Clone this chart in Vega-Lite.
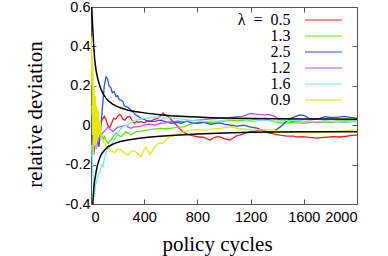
{
"$schema": "https://vega.github.io/schema/vega-lite/v6.json",
"width": 266, "height": 197,
"autosize": "none",
"padding": {"left": 91, "top": 7, "right": 31, "bottom": 52},
"background": "white",
"config": {
  "view": {"stroke": "#555", "strokeWidth": 1},
  "axis": {"grid": false, "domain": false, "tickColor": "#555", "labelFont": "Liberation Sans", "labelFontSize": 14.5, "labelColor": "#000", "titleFont": "Liberation Serif", "titleFontSize": 21, "titleFontWeight": "normal", "titleColor": "#000"},
  "legend": {"padding": 0}
},
"datasets": {
"series": [
{"l":"0.5","x":10,"y":0.06},{"l":"0.5","x":25,"y":-0.05},{"l":"0.5","x":40,"y":0.02},{"l":"0.5","x":55,"y":-0.03},{"l":"0.5","x":70,"y":0.0},{"l":"0.5","x":85,"y":0.03},{"l":"0.5","x":100,"y":0.045},{"l":"0.5","x":113,"y":0.03},{"l":"0.5","x":125,"y":0.0},{"l":"0.5","x":140,"y":-0.015},{"l":"0.5","x":155,"y":0.01},{"l":"0.5","x":170,"y":0.035},{"l":"0.5","x":185,"y":0.03},{"l":"0.5","x":200,"y":0.045},{"l":"0.5","x":215,"y":0.055},{"l":"0.5","x":226,"y":0.05},{"l":"0.5","x":240,"y":0.03},{"l":"0.5","x":255,"y":0.025},{"l":"0.5","x":270,"y":0.04},{"l":"0.5","x":291,"y":0.045},{"l":"0.5","x":305,"y":0.03},{"l":"0.5","x":318,"y":0.015},{"l":"0.5","x":329,"y":0.01},{"l":"0.5","x":345,"y":0.02},{"l":"0.5","x":360,"y":0.015},{"l":"0.5","x":376,"y":0.018},{"l":"0.5","x":400,"y":0.012},{"l":"0.5","x":429,"y":0.023},{"l":"0.5","x":450,"y":0.02},{"l":"0.5","x":475,"y":0.03},{"l":"0.5","x":504,"y":0.035},{"l":"0.5","x":525,"y":0.05},{"l":"0.5","x":541,"y":0.062},{"l":"0.5","x":560,"y":0.05},{"l":"0.5","x":580,"y":0.045},{"l":"0.5","x":600,"y":0.03},{"l":"0.5","x":620,"y":0.015},{"l":"0.5","x":644,"y":0.0},{"l":"0.5","x":670,"y":-0.02},{"l":"0.5","x":692,"y":-0.033},{"l":"0.5","x":720,"y":-0.045},{"l":"0.5","x":744,"y":-0.05},{"l":"0.5","x":780,"y":-0.055},{"l":"0.5","x":820,"y":-0.06},{"l":"0.5","x":850,"y":-0.062},{"l":"0.5","x":875,"y":-0.07},{"l":"0.5","x":895,"y":-0.075},{"l":"0.5","x":920,"y":-0.065},{"l":"0.5","x":950,"y":-0.058},{"l":"0.5","x":975,"y":-0.06},{"l":"0.5","x":1000,"y":-0.068},{"l":"0.5","x":1045,"y":-0.075},{"l":"0.5","x":1070,"y":-0.065},{"l":"0.5","x":1100,"y":-0.052},{"l":"0.5","x":1120,"y":-0.05},{"l":"0.5","x":1160,"y":-0.04},{"l":"0.5","x":1196,"y":-0.033},{"l":"0.5","x":1230,"y":-0.03},{"l":"0.5","x":1271,"y":-0.024},{"l":"0.5","x":1300,"y":-0.028},{"l":"0.5","x":1340,"y":-0.04},{"l":"0.5","x":1380,"y":-0.045},{"l":"0.5","x":1420,"y":-0.05},{"l":"0.5","x":1474,"y":-0.055},{"l":"0.5","x":1520,"y":-0.055},{"l":"0.5","x":1560,"y":-0.06},{"l":"0.5","x":1594,"y":-0.058},{"l":"0.5","x":1640,"y":-0.062},{"l":"0.5","x":1700,"y":-0.066},{"l":"0.5","x":1750,"y":-0.062},{"l":"0.5","x":1790,"y":-0.06},{"l":"0.5","x":1820,"y":-0.058},{"l":"0.5","x":1870,"y":-0.06},{"l":"0.5","x":1920,"y":-0.056},{"l":"0.5","x":1960,"y":-0.052},{"l":"0.5","x":2000,"y":-0.05},

{"l":"1.3","x":5,"y":0.1},{"l":"1.3","x":15,"y":-0.05},{"l":"1.3","x":25,"y":0.02},{"l":"1.3","x":35,"y":-0.08},{"l":"1.3","x":50,"y":-0.02},{"l":"1.3","x":65,"y":-0.06},{"l":"1.3","x":80,"y":-0.05},{"l":"1.3","x":95,"y":-0.07},{"l":"1.3","x":103,"y":-0.058},{"l":"1.3","x":115,"y":-0.08},{"l":"1.3","x":128,"y":-0.092},{"l":"1.3","x":140,"y":-0.08},{"l":"1.3","x":150,"y":-0.075},{"l":"1.3","x":165,"y":-0.06},{"l":"1.3","x":188,"y":-0.04},{"l":"1.3","x":205,"y":-0.05},{"l":"1.3","x":226,"y":-0.058},{"l":"1.3","x":245,"y":-0.045},{"l":"1.3","x":263,"y":-0.033},{"l":"1.3","x":280,"y":-0.04},{"l":"1.3","x":300,"y":-0.05},{"l":"1.3","x":320,"y":-0.04},{"l":"1.3","x":345,"y":-0.033},{"l":"1.3","x":380,"y":-0.03},{"l":"1.3","x":429,"y":-0.024},{"l":"1.3","x":470,"y":-0.02},{"l":"1.3","x":526,"y":-0.016},{"l":"1.3","x":560,"y":-0.018},{"l":"1.3","x":600,"y":-0.016},{"l":"1.3","x":650,"y":-0.01},{"l":"1.3","x":700,"y":-0.008},{"l":"1.3","x":744,"y":0.005},{"l":"1.3","x":780,"y":0.01},{"l":"1.3","x":820,"y":0.015},{"l":"1.3","x":870,"y":0.012},{"l":"1.3","x":920,"y":0.016},{"l":"1.3","x":970,"y":0.018},{"l":"1.3","x":1020,"y":0.022},{"l":"1.3","x":1060,"y":0.024},{"l":"1.3","x":1100,"y":0.026},{"l":"1.3","x":1150,"y":0.025},{"l":"1.3","x":1200,"y":0.026},{"l":"1.3","x":1250,"y":0.03},{"l":"1.3","x":1300,"y":0.035},{"l":"1.3","x":1350,"y":0.025},{"l":"1.3","x":1400,"y":0.015},{"l":"1.3","x":1450,"y":0.01},{"l":"1.3","x":1500,"y":0.013},{"l":"1.3","x":1550,"y":0.012},{"l":"1.3","x":1600,"y":0.01},{"l":"1.3","x":1650,"y":0.015},{"l":"1.3","x":1700,"y":0.016},{"l":"1.3","x":1750,"y":0.018},{"l":"1.3","x":1800,"y":0.015},{"l":"1.3","x":1850,"y":0.02},{"l":"1.3","x":1900,"y":0.022},{"l":"1.3","x":1950,"y":0.024},{"l":"1.3","x":2000,"y":0.026},

{"l":"2.5","x":5,"y":0.05},{"l":"2.5","x":20,"y":-0.15},{"l":"2.5","x":40,"y":-0.05},{"l":"2.5","x":60,"y":-0.11},{"l":"2.5","x":75,"y":0.0},{"l":"2.5","x":90,"y":0.12},{"l":"2.5","x":100,"y":0.2},{"l":"2.5","x":113,"y":0.246},{"l":"2.5","x":125,"y":0.235},{"l":"2.5","x":135,"y":0.2},{"l":"2.5","x":150,"y":0.19},{"l":"2.5","x":160,"y":0.165},{"l":"2.5","x":175,"y":0.17},{"l":"2.5","x":188,"y":0.145},{"l":"2.5","x":200,"y":0.15},{"l":"2.5","x":212,"y":0.13},{"l":"2.5","x":226,"y":0.128},{"l":"2.5","x":240,"y":0.12},{"l":"2.5","x":250,"y":0.1},{"l":"2.5","x":263,"y":0.094},{"l":"2.5","x":280,"y":0.09},{"l":"2.5","x":300,"y":0.077},{"l":"2.5","x":318,"y":0.065},{"l":"2.5","x":338,"y":0.052},{"l":"2.5","x":355,"y":0.045},{"l":"2.5","x":376,"y":0.035},{"l":"2.5","x":400,"y":0.03},{"l":"2.5","x":429,"y":0.018},{"l":"2.5","x":455,"y":0.022},{"l":"2.5","x":481,"y":0.018},{"l":"2.5","x":505,"y":0.025},{"l":"2.5","x":526,"y":0.026},{"l":"2.5","x":560,"y":0.018},{"l":"2.5","x":602,"y":0.01},{"l":"2.5","x":640,"y":0.015},{"l":"2.5","x":680,"y":0.01},{"l":"2.5","x":720,"y":0.02},{"l":"2.5","x":760,"y":0.012},{"l":"2.5","x":800,"y":0.01},{"l":"2.5","x":850,"y":0.015},{"l":"2.5","x":900,"y":0.005},{"l":"2.5","x":970,"y":0.012},{"l":"2.5","x":1000,"y":0.005},{"l":"2.5","x":1050,"y":0.0},{"l":"2.5","x":1100,"y":-0.005},{"l":"2.5","x":1150,"y":0.0},{"l":"2.5","x":1200,"y":-0.01},{"l":"2.5","x":1250,"y":-0.015},{"l":"2.5","x":1300,"y":-0.03},{"l":"2.5","x":1360,"y":-0.035},{"l":"2.5","x":1400,"y":-0.02},{"l":"2.5","x":1440,"y":0.0},{"l":"2.5","x":1470,"y":0.02},{"l":"2.5","x":1500,"y":0.035},{"l":"2.5","x":1540,"y":0.045},{"l":"2.5","x":1570,"y":0.052},{"l":"2.5","x":1600,"y":0.05},{"l":"2.5","x":1640,"y":0.035},{"l":"2.5","x":1680,"y":0.03},{"l":"2.5","x":1720,"y":0.035},{"l":"2.5","x":1760,"y":0.043},{"l":"2.5","x":1800,"y":0.04},{"l":"2.5","x":1850,"y":0.04},{"l":"2.5","x":1900,"y":0.045},{"l":"2.5","x":1950,"y":0.04},{"l":"2.5","x":2000,"y":0.035},

{"l":"1.2","x":10,"y":-0.15},{"l":"1.2","x":25,"y":-0.05},{"l":"1.2","x":40,"y":-0.12},{"l":"1.2","x":53,"y":-0.075},{"l":"1.2","x":70,"y":-0.05},{"l":"1.2","x":85,"y":-0.04},{"l":"1.2","x":100,"y":-0.03},{"l":"1.2","x":115,"y":-0.02},{"l":"1.2","x":128,"y":-0.008},{"l":"1.2","x":145,"y":-0.02},{"l":"1.2","x":165,"y":-0.033},{"l":"1.2","x":185,"y":-0.02},{"l":"1.2","x":200,"y":-0.01},{"l":"1.2","x":216,"y":-0.008},{"l":"1.2","x":240,"y":-0.005},{"l":"1.2","x":263,"y":0.0},{"l":"1.2","x":280,"y":-0.01},{"l":"1.2","x":300,"y":-0.016},{"l":"1.2","x":320,"y":-0.01},{"l":"1.2","x":340,"y":-0.008},{"l":"1.2","x":370,"y":-0.005},{"l":"1.2","x":400,"y":0.0},{"l":"1.2","x":440,"y":0.005},{"l":"1.2","x":480,"y":0.0},{"l":"1.2","x":526,"y":0.01},{"l":"1.2","x":560,"y":0.012},{"l":"1.2","x":602,"y":0.018},{"l":"1.2","x":650,"y":0.02},{"l":"1.2","x":700,"y":0.018},{"l":"1.2","x":750,"y":0.022},{"l":"1.2","x":800,"y":0.026},{"l":"1.2","x":850,"y":0.028},{"l":"1.2","x":900,"y":0.032},{"l":"1.2","x":970,"y":0.035},{"l":"1.2","x":1000,"y":0.035},{"l":"1.2","x":1050,"y":0.04},{"l":"1.2","x":1100,"y":0.043},{"l":"1.2","x":1140,"y":0.045},{"l":"1.2","x":1170,"y":0.052},{"l":"1.2","x":1196,"y":0.06},{"l":"1.2","x":1230,"y":0.058},{"l":"1.2","x":1260,"y":0.055},{"l":"1.2","x":1300,"y":0.052},{"l":"1.2","x":1340,"y":0.055},{"l":"1.2","x":1380,"y":0.045},{"l":"1.2","x":1421,"y":0.026},{"l":"1.2","x":1470,"y":0.025},{"l":"1.2","x":1520,"y":0.02},{"l":"1.2","x":1560,"y":0.022},{"l":"1.2","x":1600,"y":0.018},{"l":"1.2","x":1650,"y":0.02},{"l":"1.2","x":1700,"y":0.015},{"l":"1.2","x":1750,"y":0.02},{"l":"1.2","x":1800,"y":0.018},{"l":"1.2","x":1850,"y":0.02},{"l":"1.2","x":1900,"y":0.015},{"l":"1.2","x":1950,"y":0.018},{"l":"1.2","x":2000,"y":0.018},

{"l":"1.6","x":5,"y":-0.1},{"l":"1.6","x":15,"y":-0.25},{"l":"1.6","x":22,"y":-0.36},{"l":"1.6","x":28,"y":-0.36},{"l":"1.6","x":35,"y":-0.3},{"l":"1.6","x":42,"y":-0.29},{"l":"1.6","x":55,"y":-0.25},{"l":"1.6","x":65,"y":-0.24},{"l":"1.6","x":80,"y":-0.2},{"l":"1.6","x":90,"y":-0.21},{"l":"1.6","x":100,"y":-0.17},{"l":"1.6","x":113,"y":-0.14},{"l":"1.6","x":125,"y":-0.12},{"l":"1.6","x":140,"y":-0.11},{"l":"1.6","x":160,"y":-0.09},{"l":"1.6","x":175,"y":-0.075},{"l":"1.6","x":188,"y":-0.058},{"l":"1.6","x":205,"y":-0.04},{"l":"1.6","x":226,"y":-0.016},{"l":"1.6","x":250,"y":-0.005},{"l":"1.6","x":278,"y":0.0},{"l":"1.6","x":300,"y":0.015},{"l":"1.6","x":329,"y":0.026},{"l":"1.6","x":360,"y":0.03},{"l":"1.6","x":404,"y":0.035},{"l":"1.6","x":440,"y":0.038},{"l":"1.6","x":480,"y":0.043},{"l":"1.6","x":520,"y":0.04},{"l":"1.6","x":560,"y":0.035},{"l":"1.6","x":600,"y":0.038},{"l":"1.6","x":650,"y":0.035},{"l":"1.6","x":700,"y":0.03},{"l":"1.6","x":744,"y":0.026},{"l":"1.6","x":800,"y":0.022},{"l":"1.6","x":850,"y":0.018},{"l":"1.6","x":900,"y":0.02},{"l":"1.6","x":970,"y":0.022},{"l":"1.6","x":1000,"y":0.026},{"l":"1.6","x":1050,"y":0.03},{"l":"1.6","x":1098,"y":0.035},{"l":"1.6","x":1150,"y":0.028},{"l":"1.6","x":1196,"y":0.018},{"l":"1.6","x":1240,"y":0.022},{"l":"1.6","x":1300,"y":0.026},{"l":"1.6","x":1350,"y":0.022},{"l":"1.6","x":1400,"y":0.02},{"l":"1.6","x":1450,"y":0.024},{"l":"1.6","x":1500,"y":0.026},{"l":"1.6","x":1550,"y":0.022},{"l":"1.6","x":1600,"y":0.02},{"l":"1.6","x":1650,"y":0.018},{"l":"1.6","x":1700,"y":0.018},{"l":"1.6","x":1750,"y":0.022},{"l":"1.6","x":1800,"y":0.02},{"l":"1.6","x":1850,"y":0.018},{"l":"1.6","x":1900,"y":0.016},{"l":"1.6","x":1950,"y":0.02},{"l":"1.6","x":2000,"y":0.018},

{"l":"0.9","x":2,"y":0.45},{"l":"0.9","x":6,"y":0.2},{"l":"0.9","x":9,"y":0.35},{"l":"0.9","x":12,"y":-0.05},{"l":"0.9","x":15,"y":0.3},{"l":"0.9","x":19,"y":-0.15},{"l":"0.9","x":23,"y":0.2},{"l":"0.9","x":27,"y":-0.1},{"l":"0.9","x":32,"y":0.15},{"l":"0.9","x":37,"y":-0.12},{"l":"0.9","x":42,"y":0.1},{"l":"0.9","x":48,"y":-0.08},{"l":"0.9","x":55,"y":0.08},{"l":"0.9","x":62,"y":-0.05},{"l":"0.9","x":70,"y":0.02},{"l":"0.9","x":75,"y":-0.058},{"l":"0.9","x":90,"y":-0.08},{"l":"0.9","x":105,"y":-0.1},{"l":"0.9","x":128,"y":-0.11},{"l":"0.9","x":150,"y":-0.13},{"l":"0.9","x":178,"y":-0.14},{"l":"0.9","x":200,"y":-0.12},{"l":"0.9","x":226,"y":-0.126},{"l":"0.9","x":253,"y":-0.143},{"l":"0.9","x":278,"y":-0.151},{"l":"0.9","x":300,"y":-0.135},{"l":"0.9","x":320,"y":-0.128},{"l":"0.9","x":345,"y":-0.14},{"l":"0.9","x":376,"y":-0.16},{"l":"0.9","x":395,"y":-0.13},{"l":"0.9","x":414,"y":-0.11},{"l":"0.9","x":444,"y":-0.15},{"l":"0.9","x":470,"y":-0.12},{"l":"0.9","x":504,"y":-0.092},{"l":"0.9","x":541,"y":-0.092},{"l":"0.9","x":570,"y":-0.07},{"l":"0.9","x":602,"y":-0.055},{"l":"0.9","x":644,"y":-0.05},{"l":"0.9","x":690,"y":-0.035},{"l":"0.9","x":744,"y":-0.025},{"l":"0.9","x":800,"y":-0.022},{"l":"0.9","x":850,"y":-0.025},{"l":"0.9","x":900,"y":-0.02},{"l":"0.9","x":970,"y":-0.016},{"l":"0.9","x":1020,"y":-0.01},{"l":"0.9","x":1060,"y":-0.008},{"l":"0.9","x":1098,"y":-0.016},{"l":"0.9","x":1150,"y":-0.02},{"l":"0.9","x":1200,"y":-0.024},{"l":"0.9","x":1250,"y":-0.024},{"l":"0.9","x":1300,"y":-0.024},{"l":"0.9","x":1350,"y":-0.024},{"l":"0.9","x":1400,"y":-0.03},{"l":"0.9","x":1474,"y":-0.033},{"l":"0.9","x":1550,"y":-0.038},{"l":"0.9","x":1647,"y":-0.04},{"l":"0.9","x":1700,"y":-0.038},{"l":"0.9","x":1750,"y":-0.035},{"l":"0.9","x":1800,"y":-0.033},{"l":"0.9","x":1850,"y":-0.03},{"l":"0.9","x":1900,"y":-0.028},{"l":"0.9","x":1950,"y":-0.025},{"l":"0.9","x":2000,"y":-0.024}
],
"bounds": [
{"c":"u","x":6,"y":0.6},{"c":"u","x":10,"y":0.53},{"c":"u","x":15,"y":0.47},{"c":"u","x":20,"y":0.41},{"c":"u","x":28,"y":0.33},{"c":"u","x":40,"y":0.27},{"c":"u","x":53,"y":0.23},{"c":"u","x":70,"y":0.19},{"c":"u","x":90,"y":0.16},{"c":"u","x":110,"y":0.14},{"c":"u","x":128,"y":0.125},{"c":"u","x":160,"y":0.108},{"c":"u","x":190,"y":0.097},{"c":"u","x":226,"y":0.087},{"c":"u","x":280,"y":0.076},{"c":"u","x":331,"y":0.069},{"c":"u","x":429,"y":0.06},{"c":"u","x":520,"y":0.053},{"c":"u","x":600,"y":0.048},{"c":"u","x":700,"y":0.044},{"c":"u","x":800,"y":0.041},{"c":"u","x":900,"y":0.038},{"c":"u","x":1000,"y":0.036},{"c":"u","x":1200,"y":0.034},{"c":"u","x":1400,"y":0.033},{"c":"u","x":1600,"y":0.032},{"c":"u","x":1800,"y":0.031},{"c":"u","x":2000,"y":0.03},
{"c":"l","x":14,"y":-0.4},{"c":"l","x":18,"y":-0.35},{"c":"l","x":22,"y":-0.31},{"c":"l","x":28,"y":-0.28},{"c":"l","x":40,"y":-0.23},{"c":"l","x":52,"y":-0.195},{"c":"l","x":65,"y":-0.168},{"c":"l","x":80,"y":-0.145},{"c":"l","x":103,"y":-0.126},{"c":"l","x":130,"y":-0.108},{"c":"l","x":178,"y":-0.092},{"c":"l","x":220,"y":-0.083},{"c":"l","x":278,"y":-0.075},{"c":"l","x":350,"y":-0.067},{"c":"l","x":429,"y":-0.061},{"c":"l","x":520,"y":-0.056},{"c":"l","x":600,"y":-0.052},{"c":"l","x":700,"y":-0.048},{"c":"l","x":800,"y":-0.045},{"c":"l","x":1000,"y":-0.04},{"c":"l","x":1200,"y":-0.036},{"c":"l","x":1400,"y":-0.034},{"c":"l","x":1600,"y":-0.033},{"c":"l","x":1800,"y":-0.033},{"c":"l","x":2000,"y":-0.033}
]
},
"layer": [
{
  "data": {"name": "series"},
  "mark": {"type": "line", "strokeWidth": 1.3, "clip": true},
  "encoding": {
    "x": {"field": "x", "type": "quantitative", "scale": {"domain": [0, 2000], "nice": false},
      "axis": {"values": [0, 400, 800, 1200, 1600, 2000], "format": "d", "tickSize": -5, "labelPadding": 11, "title": "policy cycles", "titleX": 126, "titleAlign": "center", "titleY": 46, "titleBaseline": "alphabetic"}},
    "y": {"field": "y", "type": "quantitative", "scale": {"domain": [-0.4, 0.6], "nice": false, "zero": false},
      "axis": {"values": [-0.4, -0.2, 0, 0.2, 0.4, 0.6], "labelExpr": "'' + datum.value", "tickSize": -5, "labelPadding": 6, "title": "relative deviation", "titleX": -56, "titleY": 107, "titleBaseline": "middle", "titleAngle": -90}},
    "color": {"field": "l", "type": "nominal",
      "scale": {"domain": ["0.5", "1.3", "2.5", "1.2", "1.6", "0.9"], "range": ["#ff1a1a", "#5ce600", "#2a50f0", "#c84cf0", "#70f0e0", "#e8e800"]},
      "legend": {"orient": "none", "legendX": 224.5, "legendY": 5, "title": null, "symbolType": "M-3.7,0H3.7", "symbolSize": 100, "symbolStrokeWidth": 1.2, "symbolFillColor": "transparent", "labelAlign": "right", "labelOffset": -41, "labelFont": "Liberation Serif", "labelFontSize": 16, "labelColor": "#000", "rowPadding": 0, "labelExpr": "datum.label == '0.5' ? 'λ\u2002=\u20020.5' : datum.label"}}
  }
},
{
  "data": {"name": "bounds"},
  "mark": {"type": "line", "color": "black", "strokeWidth": 1.5, "clip": true},
  "encoding": {
    "x": {"field": "x", "type": "quantitative", "axis": {"orient": "top", "labels": false, "title": null, "values": [0, 400, 800, 1200, 1600, 2000], "tickSize": -5}},
    "y": {"field": "y", "type": "quantitative", "axis": {"orient": "right", "labels": false, "title": null, "values": [-0.4, -0.2, 0, 0.2, 0.4, 0.6], "tickSize": -5}},
    "detail": {"field": "c"}
  }
}
],
"resolve": {"axis": {"x": "independent", "y": "independent"}}
}
